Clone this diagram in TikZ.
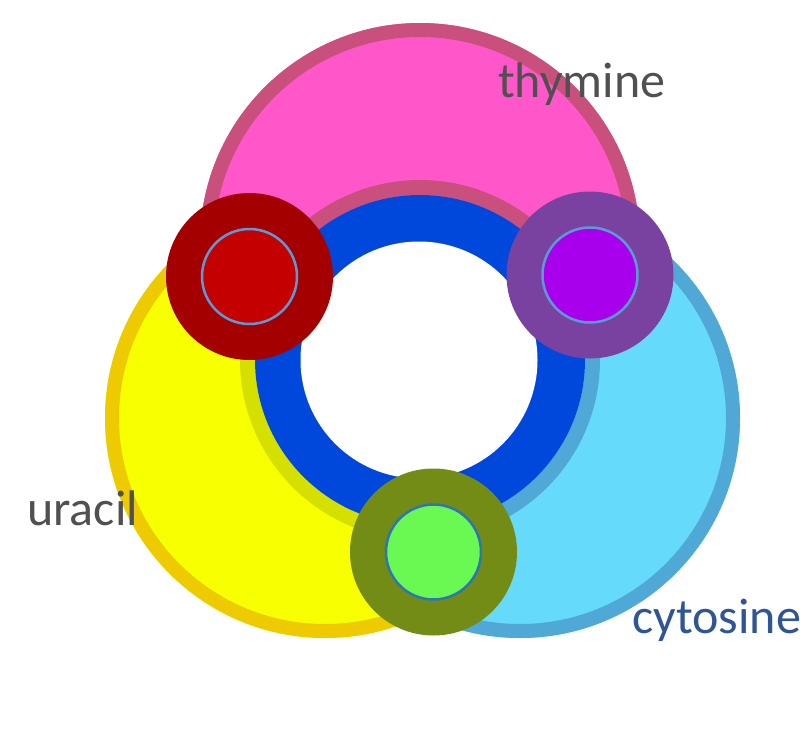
\documentclass[tikz,border=0pt]{standalone}
\usepackage{fontspec}
\setmainfont{Carlito}
\usepackage{tikz}

\definecolor{pinkfill}{HTML}{FF57C9}
\definecolor{pinkedge}{HTML}{C9507D}
\definecolor{yellowfill}{HTML}{F7FF00}
\definecolor{yellowedge}{HTML}{EECB00}
\definecolor{yellowinner}{HTML}{D6E000}
\definecolor{cyanfill}{HTML}{66DAFA}
\definecolor{cyanedge}{HTML}{50A8D6}
\definecolor{ringblue}{HTML}{0048DC}
\definecolor{redout}{HTML}{A50000}
\definecolor{redin}{HTML}{C40000}
\definecolor{purpleout}{HTML}{7A42A0}
\definecolor{purplein}{HTML}{A800EC}
\definecolor{greenout}{HTML}{738C16}
\definecolor{greenin}{HTML}{6AF852}
\definecolor{rimblue}{HTML}{5B9BD5}
\definecolor{rimdark}{HTML}{2E75B6}
\definecolor{labelgray}{HTML}{505050}
\definecolor{labelblue}{HTML}{2F5597}

\begin{document}
\begin{tikzpicture}[x=1pt,y=-1pt,
	outerdot/.style={shape=circle,inner sep=0pt,outer sep=0pt,minimum size=167pt},
	innerdot/.style={shape=circle,inner sep=0pt,outer sep=0pt,minimum size=95pt,line width=2.5pt},
	word/.style={font=\fontsize{50}{60}\selectfont,anchor=base west,inner sep=0pt}]
	\useasboundingbox[fill=white] (0,0) rectangle (800,734);
	\coordinate (o) at (420,360);

	\begin{scope}
		\clip (o) -- +(206.1:900) -- +(270:900) -- +(333.4:900) -- cycle;
		\fill[pinkfill] (420,243) circle (220);
		\draw[pinkedge,line width=14pt] (420,243) circle (213);
		\draw[pinkedge,line width=15pt] (o) circle (172.5);
	\end{scope}
	\begin{scope}
		\clip (o) -- +(86:900) -- +(146:900) -- +(206.1:900) -- cycle;
		\fill[yellowfill] (325,418) circle (220);
		\draw[yellowedge,line width=14pt] (325,418) circle (213);
		\draw[yellowinner,line width=15pt] (o) circle (172.5);
	\end{scope}
	\begin{scope}
		\clip (o) -- +(-26.6:900) -- +(30:900) -- +(86:900) -- cycle;
		\fill[cyanfill] (520,418) circle (220);
		\draw[cyanedge,line width=14pt] (520,418) circle (213);
		\draw[cyanedge,line width=15pt] (o) circle (172.5);
	\end{scope}

	\fill[ringblue] (o) circle (165);
	\fill[white] (419,360) circle (118.5);

	\node[outerdot,fill=redout] (redbase) at (249.5,276.5) {};
	\node[innerdot,fill=redin,draw=rimblue] (redcore) at (redbase) {};
	\node[outerdot,fill=purpleout] (purplebase) at (590,275) {};
	\node[innerdot,fill=purplein,draw=rimblue] (purplecore) at (purplebase) {};
	\node[outerdot,fill=greenout] (greenbase) at (433.5,552) {};
	\node[innerdot,fill=greenin,draw=rimdark] (greencore) at (greenbase) {};

	\node[word,text=labelgray] (thymine) at (498,97) {thymine};
	\node[word,text=labelgray] (uracil) at (27,525) {uracil};
	\node[word,text=labelblue] (cytosine) at (632,633) {cytosine};
\end{tikzpicture}
\end{document}
